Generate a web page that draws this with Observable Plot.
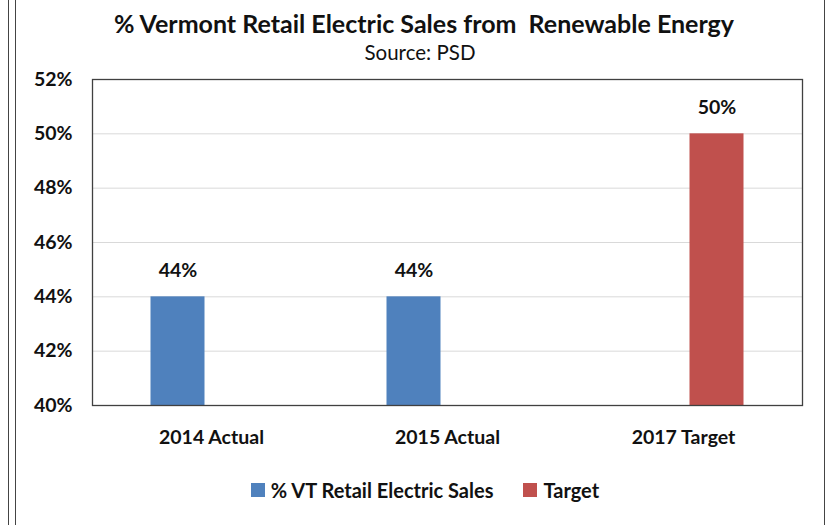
<!DOCTYPE html>
<html>
<head>
<meta charset="utf-8">
<script src="https://cdn.jsdelivr.net/npm/d3@7"></script>
<script src="https://cdn.jsdelivr.net/npm/@observablehq/plot@0.6"></script>
<style>
  html, body { margin: 0; padding: 0; background: #fff; }
  body { width: 830px; height: 525px; position: relative; overflow: hidden; font-family: "Lato", "Open Sans", sans-serif; color: #000; }
  .vline { position: absolute; top: 0; width: 1px; height: 525px; background: #444; z-index: 10; }
  #title { position: absolute; left: 0; width: 848px; top: 8px; line-height: 30px; text-align: center; font-weight: bold; font-size: 25px; white-space: pre; color: #111; }
  #subtitle { position: absolute; left: 0; width: 840px; top: 40px; line-height: 24px; text-align: center; font-size: 20.5px; color: #111; }
  #chart { position: absolute; left: 0; top: 60px; }
  #legend { position: absolute; top: 478px; left: 0; width: 850px; line-height: 24px; display: flex; justify-content: center; gap: 30px; font-weight: bold; font-size: 20px; color: #111; }
  .sw { display: flex; align-items: center; gap: 6px; }
  .sq { width: 14px; height: 14px; display: inline-block; }
</style>
</head>
<body>
<div class="vline" style="left:8px"></div>
<div class="vline" style="left:15px"></div>
<div class="vline" style="left:824px"></div>
<div id="title"></div>
<div id="subtitle"></div>
<div id="chart"></div>
<div id="legend"></div>
<script>
const titleText = "% Vermont Retail Electric Sales from  Renewable Energy";
const subtitleText = "Source: PSD";
const categories = ["2014 Actual", "2015 Actual", "2017 Target"];
const vtSales = [44, 44, null];
const target = [null, null, 50];
const seriesNames = ["% VT Retail Electric Sales", "Target"];
const seriesColors = ["#4F81BD", "#C0504D"];
const yTicks = [40, 42, 44, 46, 48, 50, 52];

document.getElementById("title").textContent = titleText;
document.getElementById("subtitle").textContent = subtitleText;

const rows = [];
categories.forEach((c, i) => {
  if (vtSales[i] != null) rows.push({category: c, series: seriesNames[0], value: vtSales[i]});
  if (target[i] != null) rows.push({category: c, series: seriesNames[1], value: target[i]});
});
const blueRows = rows.filter(d => d.series === seriesNames[0]);
const redRows = rows.filter(d => d.series === seriesNames[1]);
const yMin = yTicks[0];
const font = "Lato, 'Open Sans', sans-serif";

const barInset = 91;
const offset = 33.5;

const chart = Plot.plot({
  width: 830,
  height: 400,
  marginTop: 19,
  marginBottom: 55,
  marginLeft: 92,
  marginRight: 28,
  style: {fontFamily: font, fontSize: "19.5px", fontWeight: "bold", color: "#111", background: "transparent"},
  x: {domain: categories, padding: 0, label: null, tickSize: 0, tickPadding: 25},
  y: {domain: [yTicks[0], yTicks[yTicks.length - 1]], ticks: yTicks, tickFormat: d => d + "%", label: null, tickSize: 0, tickPadding: 20},
  marks: [
    Plot.gridY(yTicks, {stroke: "#d9d9d9", strokeOpacity: 1, strokeWidth: 1}),
    Plot.barY(blueRows, {x: "category", y1: () => yMin, y2: "value", fill: seriesColors[0], insetLeft: barInset, insetRight: barInset, dx: -offset}),
    Plot.barY(redRows, {x: "category", y1: () => yMin, y2: "value", fill: seriesColors[1], insetLeft: barInset, insetRight: barInset, dx: offset}),
    Plot.text(blueRows, {x: "category", y: "value", text: d => d.value + "%", dx: -offset, dy: -26, fontSize: 19.5, fontWeight: "bold", fill: "#111"}),
    Plot.text(redRows, {x: "category", y: "value", text: d => d.value + "%", dx: offset, dy: -26, fontSize: 19.5, fontWeight: "bold", fill: "#111"}),
    Plot.frame({stroke: "#404040", strokeWidth: 1.3})
  ]
});
document.getElementById("chart").appendChild(chart);

const legend = document.getElementById("legend");
seriesNames.forEach((n, i) => {
  const item = document.createElement("div");
  item.className = "sw";
  const sq = document.createElement("span");
  sq.className = "sq";
  sq.style.background = seriesColors[i];
  const t = document.createElement("span");
  t.textContent = n;
  item.appendChild(sq);
  item.appendChild(t);
  legend.appendChild(item);
});
</script>
</body>
</html>
